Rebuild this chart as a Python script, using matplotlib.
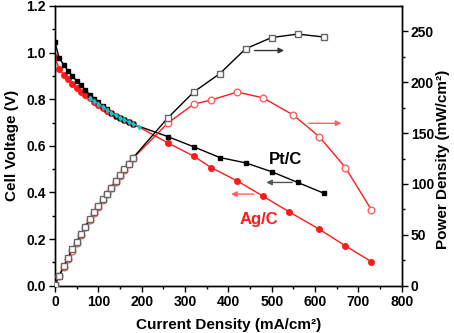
import matplotlib
matplotlib.use("Agg")
import matplotlib.pyplot as plt
import numpy as np

plt.rcParams['font.family'] = ['Liberation Sans', 'DejaVu Sans']
plt.rcParams['font.weight'] = 'bold'

# Low-current region (mA/cm2)
cd_low = [0, 10, 20, 30, 40, 50, 60, 70, 80, 90, 100, 110, 120, 130, 140, 150, 160, 170, 180]
# Pt/C polarization
pt_cd = cd_low + [260, 320, 380, 440, 500, 560, 620]
pt_v = [1.046, 0.975, 0.949, 0.922, 0.900, 0.879, 0.859, 0.839, 0.820, 0.803, 0.786,
        0.770, 0.756, 0.742, 0.730, 0.720, 0.710, 0.702, 0.693,
        0.640, 0.596, 0.550, 0.527, 0.489, 0.443, 0.397]
# Pt/C power density
pt_p = [1.0, 9.8, 19.4, 27.6, 36.1, 43.0, 51.2, 58.1, 65.6, 72.5, 78.4,
        85.0, 90.2, 96.5, 103.0, 109.0, 114.6, 120.0, 125.7,
        164.8, 190.4, 208.4, 233.0, 244.0, 247.4, 244.5]
# Ag/C polarization
ag_cd = cd_low + [260, 320, 360, 420, 480, 540, 610, 670, 730]
ag_v = [0.980, 0.930, 0.905, 0.885, 0.865, 0.848, 0.832, 0.818, 0.804, 0.790, 0.776,
        0.763, 0.751, 0.740, 0.729, 0.720, 0.711, 0.703, 0.695,
        0.613, 0.556, 0.507, 0.450, 0.384, 0.317, 0.242, 0.171, 0.103]
# Ag/C power density
ag_pcd = cd_low + [260, 320, 360, 420, 480, 550, 610, 670, 730]
ag_p = [0.8, 9.3, 18.1, 26.5, 34.6, 42.4, 49.9, 57.3, 64.3, 71.1, 77.6,
        83.9, 90.1, 96.2, 102.1, 108.0, 113.8, 119.5, 125.1,
        159.8, 178.5, 182.5, 190.4, 184.7, 167.7, 146.4, 116.1, 74.5]
# cyan overlay (partly hidden series)
cy_cd = [80, 90, 100, 110, 120, 130, 140, 150, 160, 170, 180, 195]
cy_v = [0.806, 0.792, 0.780, 0.767, 0.754, 0.742, 0.731, 0.721, 0.712, 0.703, 0.695, 0.683]

fig = plt.figure(figsize=(4.54, 3.33), dpi=100)
ax = fig.add_axes([0.121, 0.142, 0.764, 0.840])
ax2 = ax.twinx()

red = '#ff1a1a'
ax.plot(ag_cd, ag_v, '-', color=red, lw=1.0, marker='o', ms=4, mfc=red, mec=red, zorder=3)
ax.plot(pt_cd, pt_v, '-', color='black', lw=1.0, marker='s', ms=3.3, mfc='black', mec='black', zorder=4)
ax.plot(cy_cd, cy_v, '-', color='#20c8d0', lw=1.0, marker='d', ms=2.5, mfc='#20c8d0', mec='#20c8d0',
        alpha=0.85, zorder=5)

ax2.plot(ag_pcd, ag_p, '-', color=red, lw=1.0, marker='o', ms=4.8, mfc='white', mec='#ff6060', zorder=3)
ax2.plot(pt_cd, pt_p, '-', color='black', lw=1.0, marker='s', ms=4.8, mfc='white', mec='#666666', zorder=4)

# arrows
ax.annotate('', xy=(535, 1.009), xytext=(454, 1.009),
            arrowprops=dict(arrowstyle='-|>', color='#333333', lw=1.0, mutation_scale=8))
ax.annotate('', xy=(667, 0.697), xytext=(579, 0.697),
            arrowprops=dict(arrowstyle='-|>', color='#ff6060', lw=1.0, mutation_scale=8))
ax.annotate('', xy=(481, 0.443), xytext=(554, 0.443),
            arrowprops=dict(arrowstyle='-|>', color='#555555', lw=1.0, mutation_scale=8))
ax.annotate('', xy=(400, 0.393), xytext=(465, 0.393),
            arrowprops=dict(arrowstyle='-|>', color='#ff6060', lw=1.0, mutation_scale=8))

ax.text(531, 0.543, 'Pt/C', fontsize=12, fontweight='bold', color='black', ha='center', va='center')
ax.text(471, 0.285, 'Ag/C', fontsize=12, fontweight='bold', color=red, ha='center', va='center')

ax.set_xlim(0, 800)
ax.set_ylim(0, 1.2)
ax2.set_ylim(0, 275)
ax.set_xticks(np.arange(0, 801, 100))
ax.set_xticks(np.arange(50, 800, 100), minor=True)
ax.set_yticks(np.arange(0, 1.21, 0.2))
ax.set_yticks(np.arange(0.1, 1.2, 0.2), minor=True)
ax.set_yticklabels([f'{v:.1f}' for v in np.arange(0, 1.21, 0.2)])
ax2.set_yticks(np.arange(0, 251, 50))
ax2.set_yticks(np.arange(25, 275, 50), minor=True)

for a in (ax, ax2):
    a.tick_params(which='major', direction='out', length=4, width=1, labelsize=10, pad=2.5)
    a.tick_params(which='minor', direction='out', length=2.5, width=1)
    for lab in a.get_xticklabels() + a.get_yticklabels():
        lab.set_fontweight('bold')
    for s in a.spines.values():
        s.set_linewidth(1.0)
ax.tick_params(top=False)

ax.set_xlabel('Current Density (mA/cm²)', fontsize=11, fontweight='bold')
ax.xaxis.set_label_coords(0.5, -0.115)
ax.set_ylabel('Cell Voltage (V)', fontsize=11, fontweight='bold')
ax.yaxis.set_label_coords(-0.105, 0.5)
fig.text(443 / 454, 0.52, 'Power Density (mW/cm²)', fontsize=11, fontweight='bold',
         rotation=90, ha='center', va='center')

fig.savefig('out.png', dpi=100)
